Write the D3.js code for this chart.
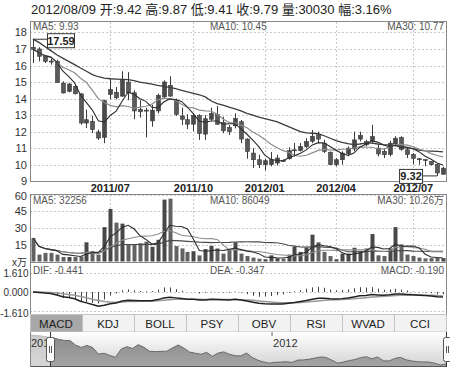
<!DOCTYPE html>
<html><head><meta charset="utf-8">
<script src="https://cdn.jsdelivr.net/npm/d3@7"></script>
<style>
body{margin:0;background:#fff}
svg{display:block}
text{font-family:"Liberation Sans",Arial,"Noto Sans CJK SC",sans-serif}
</style>
</head><body>
<svg id="c" width="450" height="369"></svg>
<script>
// ---------- data ----------
const dates = ["2011-04-01","2011-04-08","2011-04-15","2011-04-22","2011-04-29","2011-05-06","2011-05-13","2011-05-20","2011-05-27","2011-06-03","2011-06-10","2011-06-17","2011-06-24","2011-07-01","2011-07-08","2011-07-15","2011-07-22","2011-07-29","2011-08-05","2011-08-12","2011-08-19","2011-08-26","2011-09-02","2011-09-09","2011-09-16","2011-09-23","2011-09-30","2011-10-14","2011-10-21","2011-10-28","2011-11-04","2011-11-11","2011-11-18","2011-11-25","2011-12-02","2011-12-09","2011-12-16","2011-12-23","2011-12-30","2012-01-06","2012-01-13","2012-01-20","2012-02-03","2012-02-10","2012-02-17","2012-02-24","2012-03-02","2012-03-09","2012-03-16","2012-03-23","2012-03-30","2012-04-06","2012-04-13","2012-04-20","2012-04-27","2012-05-04","2012-05-11","2012-05-18","2012-05-25","2012-06-01","2012-06-08","2012-06-15","2012-06-21","2012-06-29","2012-07-06","2012-07-13","2012-07-20","2012-07-27","2012-08-03","2012-08-09"];
const open  = [17.10,17.00,16.56,16.27,16.25,14.94,14.44,14.74,14.28,12.52,12.62,11.98,11.65,14.25,14.38,14.15,15.00,14.35,13.35,13.30,12.65,13.25,14.10,14.80,13.90,12.95,12.72,12.45,12.98,11.85,12.75,13.05,12.55,12.25,12.35,12.60,11.55,10.70,10.30,10.00,10.00,10.10,10.26,10.36,10.85,10.85,11.10,11.42,11.80,11.30,10.75,10.00,10.30,10.65,10.95,11.55,11.40,11.45,11.00,10.81,10.62,11.25,11.65,10.90,10.62,10.36,10.31,10.20,10.00,9.42];
const high  = [17.59,17.10,16.62,16.41,16.35,15.04,14.95,14.80,14.34,13.33,12.96,12.12,13.93,15.25,14.70,15.65,15.60,14.50,13.90,13.45,13.63,14.30,15.10,15.35,14.00,13.45,13.05,13.13,13.05,13.00,13.45,13.55,12.90,12.40,13.10,12.70,11.60,11.00,10.60,10.35,10.77,10.60,10.32,11.05,11.31,11.31,11.60,12.10,12.00,11.51,10.80,10.40,10.81,11.10,12.00,12.00,11.51,12.42,11.20,11.00,11.45,11.72,11.72,11.05,10.70,10.40,10.32,10.22,10.05,9.87];
const low   = [16.15,16.25,16.15,16.05,14.95,14.30,14.38,14.25,12.42,12.22,11.92,11.50,11.30,13.95,13.95,14.10,13.90,12.75,12.85,11.65,12.30,13.10,14.00,14.10,12.95,12.40,12.15,12.02,11.50,11.50,12.65,12.40,11.90,11.80,12.20,11.30,10.36,9.80,9.80,9.66,9.90,9.95,10.18,10.30,10.50,10.80,11.00,11.30,11.30,10.71,9.98,9.90,10.00,10.50,10.81,11.41,11.11,11.30,10.50,10.40,10.50,11.11,10.85,10.40,10.00,10.00,9.90,9.95,9.32,9.41];
const close = [16.98,16.56,16.25,16.24,14.98,14.34,14.88,14.29,12.52,12.72,12.12,11.61,13.87,14.55,14.05,15.10,14.35,13.25,13.20,13.25,13.30,14.20,15.00,14.15,13.05,12.75,12.45,12.98,11.88,12.78,13.10,12.45,12.05,12.00,12.80,11.55,10.80,10.30,10.00,10.24,10.30,10.40,10.22,10.85,10.90,11.10,11.40,11.72,11.55,10.80,10.00,10.30,10.70,11.00,11.50,11.78,11.20,11.70,10.65,10.60,11.30,11.60,10.92,10.62,10.38,10.34,10.30,10.00,9.50,9.79];
// volume in 万
const volume = [21,6.2,7.7,7.7,6.2,4.0,4.0,4.0,4.5,17.2,9.2,6.2,30.8,47,34.8,33.9,15.4,15.4,16.3,17.8,13.2,19.4,55.4,56.3,13.8,11.7,8.6,9.2,5.5,11.1,14.1,11.7,7.1,10.2,17.2,7.1,4.9,3.5,2.5,2.0,5.5,3.0,2.5,6.2,13.2,8.6,12.3,24,17.2,8.6,4.9,2.0,7.1,7.1,12.3,9.2,11.7,24.6,5.5,4.9,11.7,30.8,15.4,6.2,4.9,3.5,2.8,3.0,3.5,3.0];
// MA30 of price (includes history before the first visible bar)
const ma30Price = [17.60,17.40,17.15,16.90,16.65,16.45,16.25,16.05,15.85,15.65,15.45,15.32,15.24,15.20,15.18,15.16,15.14,15.08,15.00,14.94,14.88,14.80,14.74,14.68,14.60,14.50,14.40,14.32,14.23,14.10,13.85,13.70,13.60,13.48,13.38,13.25,13.10,13.00,12.88,12.78,12.70,12.60,12.45,12.30,12.15,12.00,11.92,11.90,11.87,11.75,11.60,11.45,11.35,11.27,11.21,11.25,11.30,11.30,11.25,11.21,11.18,11.15,11.12,11.05,10.95,10.88,10.84,10.82,10.80,10.77];
// navigator: a few weeks shown before the main window
const navPriorDates = ["2011-03-04","2011-03-11","2011-03-18","2011-03-25"];
const navPriorClose = [17.75,17.60,17.45,17.20];

const priceTicks = [9,10,11,12,13,14,15,16,17,18];
const volTicks = [15,30,45,60];
const volTickLabels = ["15","30","45","60"];
const macdTicks = [1.61,0,-1.61];
const macdTickLabels = ["1.610","0.000","-1.610"];
const dateTickDates = ["2011-07-01","2011-10-14","2012-01-06","2012-04-06","2012-07-06"];
const dateTickLabels = ["2011/07","2011/10","2012/01","2012/04","2012/07"];
const tabs = ["MACD","KDJ","BOLL","PSY","OBV","RSI","WVAD","CCI"];
const titleText = "2012/08/09 开:9.42 高:9.87 低:9.41 收:9.79 量:30030 幅:3.16%";
const priceHeader = ["MA5: 9.93","MA10: 10.45","MA30: 10.77"];
const volHeader = ["MA5: 32256","MA10: 86049","MA30: 10.26万"];
const macdHeader = ["DIF: -0.441","DEA: -0.347","MACD: -0.190"];
const maxLabel = "17.59", minLabel = "9.32";

// ---------- helpers ----------
const svg = d3.select("#c");
const L = 30, R = 446;
const x = d3.scaleBand().domain(dates).range([L, R]);
const cx = d => x(d) + x.bandwidth()/2;
const bw = Math.round(x.bandwidth()*0.7);
const movingAvg = (arr,k) => arr.map((v,i)=>d3.mean(arr.slice(Math.max(0,i-k+1), i+1)));

const yP = d3.scaleLinear().domain([9,18]).range([181.2, 32.45]);
const yV = d3.scaleLinear().domain([0,60]).range([261.5, 194.5]);
const yM = d3.scaleLinear().domain([-1.61,1.61]).range([311, 273]);

const grid = "#c8c8c8";
const rows = dates.map((d,i)=>({d,i,o:open[i],h:high[i],l:low[i],c:close[i],v:volume[i]}));

// title
svg.append("text").attr("x",31).attr("y",9).attr("dy","0.35em")
  .attr("font-size",13).attr("fill","#222").text(titleText);

// ---------- main price panel ----------
const gP = svg.append("g");
gP.selectAll("line.hg").data(priceTicks.slice(1)).join("line")
  .attr("x1",L).attr("x2",R).attr("y1",d=>Math.round(yP(d))+0.5).attr("y2",d=>Math.round(yP(d))+0.5)
  .attr("stroke",grid).attr("stroke-dasharray","2,2");
gP.selectAll("line.vg").data(dateTickDates).join("line")
  .attr("x1",d=>Math.round(cx(d))+0.5).attr("x2",d=>Math.round(cx(d))+0.5).attr("y1",22).attr("y2",181)
  .attr("stroke",grid).attr("stroke-dasharray","2,2");
const yAxisP = d3.axisLeft(yP).tickValues(priceTicks).tickSize(0).tickPadding(3).tickFormat(d3.format("d"));
svg.append("g").attr("transform",`translate(${L},0)`).call(yAxisP)
  .call(g=>g.select(".domain").remove())
  .call(g=>g.selectAll("text").attr("font-size",11).attr("fill","#333").attr("font-family",null));

// candles
gP.selectAll("line.wick").data(rows).join("line")
  .attr("x1",d=>Math.round(cx(d.d))+0.5).attr("x2",d=>Math.round(cx(d.d))+0.5)
  .attr("y1",d=>yP(d.h)).attr("y2",d=>yP(d.l)).attr("stroke","#3a3a3a");
gP.selectAll("rect.body").data(rows).join("rect")
  .attr("x",d=>Math.round(cx(d.d))+0.5-bw/2).attr("width",bw)
  .attr("y",d=>yP(Math.max(d.o,d.c))).attr("height",d=>Math.max(1,Math.abs(yP(d.o)-yP(d.c))))
  .attr("fill",d=>d.c>=d.o?"#4a4a4a":"#5a5a5a").attr("stroke","#3a3a3a").attr("stroke-width",0.6);

// MA lines
const lineP = d3.line().x((v,i)=>cx(dates[i])).y(v=>yP(v));
const ma5 = movingAvg(close,5), ma10 = movingAvg(close,10);
gP.append("path").attr("d",lineP(ma30Price)).attr("fill","none").attr("stroke","#3c3c3c").attr("stroke-width",1.3);
gP.append("path").attr("d",lineP(ma10)).attr("fill","none").attr("stroke","#8c8c8c").attr("stroke-width",1.2);
gP.append("path").attr("d",lineP(ma5)).attr("fill","none").attr("stroke","#2e2e2e").attr("stroke-width",1.1);

svg.append("rect").attr("x",L+0.5).attr("y",21.5).attr("width",R-L).attr("height",160)
  .attr("fill","none").attr("stroke","#888");

// headers
function header(vals, y){
  svg.append("text").attr("x",33).attr("y",y).attr("dy","0.35em").attr("font-size",10).attr("fill","#555").text(vals[0]);
  svg.append("text").attr("x",210).attr("y",y).attr("dy","0.35em").attr("font-size",10).attr("fill","#555").text(vals[1]);
  svg.append("text").attr("x",444).attr("y",y).attr("dy","0.35em").attr("text-anchor","end").attr("font-size",10).attr("fill","#555").text(vals[2]);
}
header(priceHeader, 26.5);

// max / min markers
const iMax = d3.maxIndex(high), iMin = d3.minIndex(low);
{
  const px = cx(dates[iMax]), py = yP(high[iMax]);
  gP.append("line").attr("x1",px).attr("x2",px+14).attr("y1",py).attr("y2",py).attr("stroke","#333");
  gP.append("rect").attr("x",px+14.5).attr("y",py-5.5).attr("width",27).attr("height",14)
    .attr("fill","#fff").attr("stroke","#333");
  gP.append("text").attr("x",px+28).attr("y",py+2).attr("dy","0.35em").attr("text-anchor","middle")
    .attr("font-size",11).attr("font-weight","bold").attr("fill","#222").text(maxLabel);
}
{
  const px = cx(dates[iMin]), py = yP(low[iMin]);
  gP.append("line").attr("x1",px-14).attr("x2",px).attr("y1",py).attr("y2",py).attr("stroke","#333");
}

// date labels
svg.selectAll("text.dl").data(dateTickDates).join("text")
  .attr("x",d=>cx(d)).attr("y",188).attr("dy","0.35em").attr("text-anchor","middle")
  .attr("font-size",11).attr("font-weight","bold").attr("fill","#222")
  .text((d,i)=>dateTickLabels[i]);

{
  const px = cx(dates[iMin]), py = yP(low[iMin]);
  svg.append("rect").attr("x",px-37.5).attr("y",py-6.5).attr("width",23).attr("height",14)
    .attr("fill","#fff").attr("stroke","#333");
  svg.append("text").attr("x",px-26).attr("y",py+0.5).attr("dy","0.35em").attr("text-anchor","middle")
    .attr("font-size",11).attr("font-weight","bold").attr("fill","#222").text(minLabel);
}

// ---------- volume panel ----------
const gV = svg.append("g");
gV.selectAll("line.hg").data(volTicks).join("line")
  .attr("x1",L).attr("x2",R).attr("y1",d=>Math.round(yV(d))+0.5).attr("y2",d=>Math.round(yV(d))+0.5)
  .attr("stroke",grid).attr("stroke-dasharray","2,2");
gV.selectAll("line.vg").data(dateTickDates).join("line")
  .attr("x1",d=>Math.round(cx(d))+0.5).attr("x2",d=>Math.round(cx(d))+0.5).attr("y1",195).attr("y2",262)
  .attr("stroke",grid).attr("stroke-dasharray","2,2");
gV.selectAll("rect.vb").data(rows).join("rect")
  .attr("x",d=>Math.round(cx(d.d))+0.5-bw/2).attr("width",bw)
  .attr("y",d=>yV(d.v)).attr("height",d=>yV(0)-yV(d.v))
  .attr("fill",d=>d.c>=d.o?"#484848":"#626262");
const lineV = d3.line().x((v,i)=>cx(dates[i])).y(v=>yV(v));
gV.append("path").attr("d",lineV(movingAvg(volume,30))).attr("fill","none").attr("stroke","#4a4a4a").attr("stroke-width",1.1);
gV.append("path").attr("d",lineV(movingAvg(volume,10))).attr("fill","none").attr("stroke","#8c8c8c").attr("stroke-width",1.1);
gV.append("path").attr("d",lineV(movingAvg(volume,5))).attr("fill","none").attr("stroke","#2e2e2e").attr("stroke-width",1.1);
svg.append("rect").attr("x",L+0.5).attr("y",194.5).attr("width",R-L).attr("height",68)
  .attr("fill","none").attr("stroke","#888");
svg.selectAll("text.vl").data(volTicks).join("text")
  .attr("x",27).attr("y",d=>Math.max(196,yV(d))).attr("dy","0.35em").attr("text-anchor","end")
  .attr("font-size",11).attr("fill","#333").text((d,i)=>volTickLabels[i]);
svg.append("text").attr("x",27).attr("y",262).attr("dy","0.35em").attr("text-anchor","end")
  .attr("font-size",10).attr("fill","#333").text("x万");
header(volHeader, 200);

// ---------- MACD panel ----------
const ema = (arr,k)=>{const a=2/(k+1);const out=[];arr.forEach((v,i)=>out.push(i?out[i-1]*(1-a)+v*a:v));return out;};
const e12 = ema(close,12), e26 = ema(close,26);
const dif = e12.map((v,i)=>v-e26[i]);
const dea = []; dif.forEach((v,i)=>dea.push(i?dea[i-1]*0.8+v*0.2:v));
const macd = dif.map((v,i)=>2*(v-dea[i]));
const gM = svg.append("g");
gM.selectAll("line.hg").data(macdTicks).join("line")
  .attr("x1",L).attr("x2",R).attr("y1",d=>Math.round(yM(d))+0.5).attr("y2",d=>Math.round(yM(d))+0.5)
  .attr("stroke",grid).attr("stroke-dasharray","2,2");
gM.selectAll("line.mh").data(macd).join("line")
  .attr("x1",(v,i)=>Math.round(cx(dates[i]))+0.5).attr("x2",(v,i)=>Math.round(cx(dates[i]))+0.5)
  .attr("y1",yM(0)).attr("y2",v=>yM(v)).attr("stroke","#444");
const lineM = d3.line().x((v,i)=>cx(dates[i])).y(v=>yM(v));
gM.append("path").attr("d",lineM(dea)).attr("fill","none").attr("stroke","#999").attr("stroke-width",1.5);
gM.append("path").attr("d",lineM(dif)).attr("fill","none").attr("stroke","#222").attr("stroke-width",1.5);
svg.append("rect").attr("x",L+0.5).attr("y",262.5).attr("width",R-L).attr("height",52)
  .attr("fill","none").attr("stroke","#888");
svg.selectAll("text.ml").data(macdTicks).join("text")
  .attr("x",28.5).attr("y",d=>Math.min(313.5,Math.max(273,yM(d)+(d<0?3:0)))).attr("dy","0.35em").attr("text-anchor","end")
  .attr("font-size",10).attr("fill","#333").text((d,i)=>macdTickLabels[i]);
header(macdHeader, 270);

// ---------- tabs ----------
const tabW = (R-L)/tabs.length;
const gT = svg.append("g");
gT.selectAll("rect").data(tabs).join("rect")
  .attr("x",(d,i)=>L+i*tabW+0.5).attr("y",314.5).attr("width",tabW).attr("height",17.5)
  .attr("fill",(d,i)=>i===0?"#a8a8a8":"#f2f2f2").attr("stroke","#c4c4c4");
gT.selectAll("text").data(tabs).join("text")
  .attr("x",(d,i)=>L+i*tabW+tabW/2).attr("y",323.5).attr("dy","0.35em").attr("text-anchor","middle")
  .attr("font-size",11.5).attr("fill","#222").text(d=>d);

// ---------- navigator ----------
const navDates = navPriorDates.concat(dates);
const navClose = navPriorClose.concat(close);
const navX = d3.scalePoint().domain(navDates).range([L, R]);
const navY = d3.scaleLinear().domain(d3.extent(navClose)).range([365, 335]);
const defs = svg.append("defs");
const bgG = defs.append("linearGradient").attr("id","navbg").attr("x1",0).attr("y1",0).attr("x2",0).attr("y2",1);
bgG.append("stop").attr("offset","0%").attr("stop-color","#ffffff");
bgG.append("stop").attr("offset","100%").attr("stop-color","#d4d4d4");
const arG = defs.append("linearGradient").attr("id","navar").attr("x1",0).attr("y1",0).attr("x2",0).attr("y2",1);
arG.append("stop").attr("offset","0%").attr("stop-color","#8a8a8a");
arG.append("stop").attr("offset","100%").attr("stop-color","#a4a4a4");
svg.append("rect").attr("x",L).attr("y",332).attr("width",R-L).attr("height",34).attr("fill","url(#navbg)");
svg.append("path").attr("d",d3.area().x(d=>navX(d)).y0(366).y1((d,i)=>navY(navClose[i]))(navDates))
  .attr("fill","url(#navar)");
svg.append("path").attr("d",d3.line().x(d=>navX(d)).y((d,i)=>navY(navClose[i]))(navDates))
  .attr("fill","none").attr("stroke","#6a6a6a");
const hx = Math.round(navX(dates[0]))-3;
svg.append("rect").attr("x",L).attr("y",332).attr("width",hx-L).attr("height",34).attr("fill","#fff").attr("opacity",0.55);
svg.append("line").attr("x1",L+0.5).attr("x2",R+0.5).attr("y1",366.5).attr("y2",366.5).attr("stroke","#555");
svg.append("line").attr("x1",L+0.5).attr("x2",L+0.5).attr("y1",332).attr("y2",367).attr("stroke","#888");
// 2012 tick
const y2012 = navX("2012-01-06")-3;
svg.append("line").attr("x1",y2012).attr("x2",y2012).attr("y1",332).attr("y2",336).attr("stroke","#666");
svg.append("text").attr("x",y2012+1).attr("y",343.5).attr("dy","0.35em").attr("font-size",11).attr("fill","#333").text("2012");
svg.append("text").attr("x",31).attr("y",343.5).attr("dy","0.35em").attr("font-size",11).attr("fill","#333").text("2011");
// handles
svg.append("line").attr("x1",hx+0.5).attr("x2",hx+0.5).attr("y1",332).attr("y2",367).attr("stroke","#333");
function handle(xc){
  svg.append("rect").attr("x",xc-3.5).attr("y",337.5).attr("width",8).attr("height",24).attr("rx",2)
    .attr("fill","#fbfbfb").attr("stroke","#555");
  svg.append("line").attr("x1",xc-0.5).attr("x2",xc-0.5).attr("y1",346).attr("y2",353).attr("stroke","#555");
  svg.append("line").attr("x1",xc+1.5).attr("x2",xc+1.5).attr("y1",346).attr("y2",353).attr("stroke","#555");
}
handle(hx);
svg.append("line").attr("x1",R+0.5).attr("x2",R+0.5).attr("y1",332).attr("y2",367).attr("stroke","#333");
handle(R+1);
</script>
</body></html>
